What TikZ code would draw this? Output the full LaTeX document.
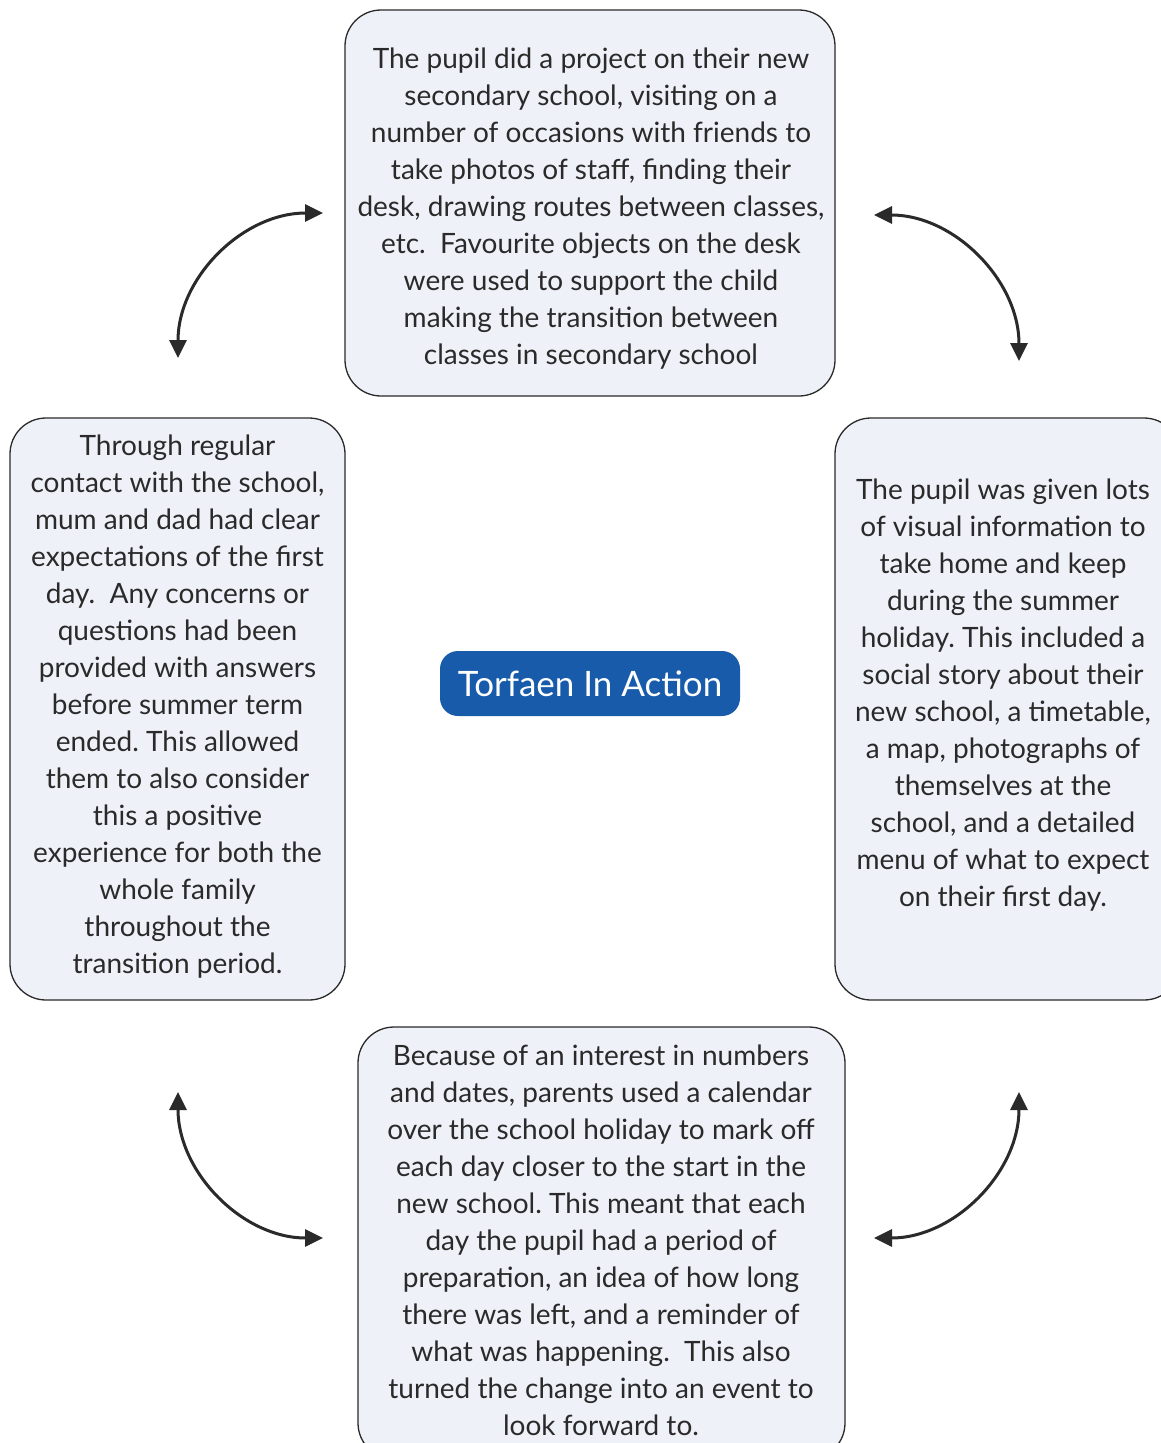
\documentclass[tikz,border=0pt]{standalone}
\usepackage{fontspec}
\setmainfont{Lato}
\usepackage{xcolor}
\usetikzlibrary{arrows.meta}
\definecolor{boxfill}{HTML}{EEF1F8}
\definecolor{hubblue}{HTML}{175BAA}
\definecolor{ink}{HTML}{2A2A2A}
\frenchspacing

\begin{document}
\begin{tikzpicture}[x=1pt,y=-1pt,>={Triangle[length=18pt,width=17pt]},line width=3pt]
                \tikzset{box/.style={draw=ink, fill=boxfill, rounded corners=36pt, line width=1.3pt, inner sep=0pt},
                         words/.style={align=center, text=ink, font=\fontsize{28}{37}\selectfont}}
                \useasboundingbox (0,0) rectangle (1161,1443);
                \node[box, minimum width=490pt, minimum height=386pt] (T) at (590,203) {};
                \node[box, minimum width=335pt, minimum height=582pt] (L) at (177.5,709) {};
                \node[box, minimum width=345pt, minimum height=582pt] (R) at (1007.5,709) {};
                \node[box, minimum width=487pt, minimum height=432pt] (B) at (601.5,1243) {};
                \node[fill=hubblue, rounded corners=18pt, minimum width=300pt, minimum height=65pt, text=white, font=\fontsize{35}{40}\selectfont] (H) at (590,683.5) {Torfaen In Action};
                \node[words] (Ttext) at (591,209) {The pupil did a project on their new\\secondary school, visiting on a\\number of occasions with friends to\\take photos of staff, finding their\\desk, drawing routes between classes,\\etc.\ \ Favourite objects on the desk\\were used to support the child\\making the transition between\\classes in secondary school};
                \node[words] (Ltext) at (177.5,707) {Through regular\\contact with the school,\\mum and dad had clear\\expectations of the first\\day.\ \ Any concerns or\\questions had been\\provided with answers\\before summer term\\ended. This allowed\\them to also consider\\this a positive\\experience for both the\\whole family\\throughout the\\transition period.};
                \node[words] (Rtext) at (1003,695.5) {The pupil was given lots\\of visual information to\\take home and keep\\during the summer\\holiday. This included a\\social story about their\\new school, a timetable,\\a map, photographs of\\themselves at the\\school, and a detailed\\menu of what to expect\\on their first day.};
                \node[words] (Btext) at (601,1240) {Because of an interest in numbers\\and dates, parents used a calendar\\over the school holiday to mark off\\each day closer to the start in the\\new school. This meant that each\\day the pupil had a period of\\preparation, an idea of how long\\there was left, and a reminder of\\what was happening.\ \ This also\\turned the change into an event to\\look forward to.};
                % arrow ends
                \coordinate (tl1) at (178,358);
                \coordinate (tl2) at (323,213);
                \coordinate (tr1) at (874,215);
                \coordinate (tr2) at (1019,361);
                \coordinate (bl1) at (178,1092);
                \coordinate (bl2) at (323,1238);
                \coordinate (br1) at (1019,1092);
                \coordinate (br2) at (874,1238);
                \draw[<->, draw=ink] (tl1) to[out=90, in=180] (tl2);
                \draw[<->, draw=ink] (tr1) to[out=0, in=90] (tr2);
                \draw[<->, draw=ink] (bl1) to[out=-90, in=180] (bl2);
                \draw[<->, draw=ink] (br1) to[out=-90, in=0] (br2);
            \end{tikzpicture}
\end{document}
